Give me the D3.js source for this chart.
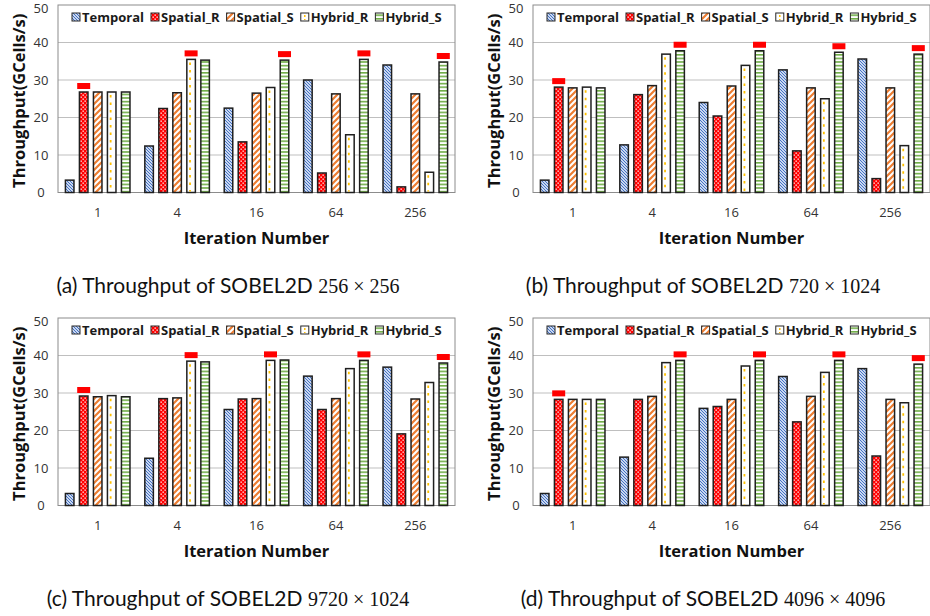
<!DOCTYPE html>
<html>
<head>
<meta charset="utf-8">
<script src="https://cdn.jsdelivr.net/npm/d3@7"></script>
<style>
  body { margin: 0; background: #fff; }
  svg text { font-family: "Open Sans", sans-serif; }
</style>
</head>
<body>
<div id="viz"></div>
<script>
// iteration counts on the x axis
var groups = ["1", "4", "16", "64", "256"];
var series = ["Temporal", "Spatial_R", "Spatial_S", "Hybrid_R", "Hybrid_S"];
var yTicks = [0, 10, 20, 30, 40, 50];

// throughput per series (rows follow `series`), one table per panel
var sobel256 = [
  [3.3, 12.4, 22.5, 30.0, 34.0],
  [26.8, 22.4, 13.5, 5.2, 1.5],
  [26.8, 26.6, 26.5, 26.3, 26.3],
  [26.8, 35.5, 28.0, 15.4, 5.4],
  [26.8, 35.3, 35.3, 35.5, 34.8]
];
var sobel720 = [
  [3.3, 12.7, 24.0, 32.7, 35.6],
  [28.1, 26.1, 20.4, 11.1, 3.7],
  [27.9, 28.5, 28.4, 27.9, 27.9],
  [28.1, 36.9, 33.9, 25.0, 12.5],
  [27.9, 37.8, 37.8, 37.4, 36.9]
];
var sobel9720 = [
  [3.2, 12.6, 25.6, 34.5, 36.9],
  [29.2, 28.5, 28.4, 25.6, 19.1],
  [29.0, 28.7, 28.5, 28.5, 28.4],
  [29.3, 38.5, 38.7, 36.5, 32.8],
  [29.0, 38.3, 38.8, 38.7, 38.0]
];
var sobel4096 = [
  [3.2, 12.9, 25.9, 34.4, 36.5],
  [28.3, 28.3, 26.4, 22.3, 13.2],
  [28.3, 29.1, 28.3, 29.1, 28.3],
  [28.3, 38.1, 37.2, 35.5, 27.4],
  [28.3, 38.7, 38.7, 38.7, 37.7]
];
// which series gets the red "best" marker in each group
var best256 = [1, 3, 4, 4, 4];
var best720 = [1, 4, 4, 4, 4];
var best9720 = [1, 3, 3, 4, 4];
var best4096 = [1, 4, 4, 4, 4];

var captions = [
  ["(a) Throughput of SOBEL2D ", "256 \u00d7 256"],
  ["(b) Throughput of SOBEL2D ", "720 \u00d7 1024"],
  ["(c) Throughput of SOBEL2D ", "9720 \u00d7 1024"],
  ["(d) Throughput of SOBEL2D ", "4096 \u00d7 4096"]
];

var panels = [
  {data: sobel256, best: best256, cap: captions[0], ox: 0, oy: 0},
  {data: sobel720, best: best720, cap: captions[1], ox: 475, oy: 0},
  {data: sobel9720, best: best9720, cap: captions[2], ox: 0, oy: 313},
  {data: sobel4096, best: best4096, cap: captions[3], ox: 475, oy: 313}
];

var svg = d3.select("#viz").append("svg")
  .attr("width", 930)
  .attr("height", 616);

// fill patterns
var defs = svg.append("defs");

var pT = defs.append("pattern").attr("id", "p0").attr("patternUnits", "userSpaceOnUse")
  .attr("width", 3).attr("height", 3);
pT.append("rect").attr("width", 3).attr("height", 3).attr("fill", "#c9d7f0");
pT.append("path").attr("d", "M-1,-1 L4,4 M-1,2 L1,4 M2,-1 L4,1")
  .attr("stroke", "#4472c4").attr("stroke-width", 1);

var pSR = defs.append("pattern").attr("id", "p1").attr("patternUnits", "userSpaceOnUse")
  .attr("width", 4).attr("height", 4);
pSR.append("rect").attr("width", 4).attr("height", 4).attr("fill", "#ff0000");
pSR.append("rect").attr("x", 0.5).attr("y", 0.5).attr("width", 1.3).attr("height", 1.3).attr("fill", "#fff");
pSR.append("rect").attr("x", 2.5).attr("y", 2.5).attr("width", 1.3).attr("height", 1.3).attr("fill", "#fff");

var pSS = defs.append("pattern").attr("id", "p2").attr("patternUnits", "userSpaceOnUse")
  .attr("width", 6).attr("height", 6);
pSS.append("rect").attr("width", 6).attr("height", 6).attr("fill", "#fff");
pSS.append("path").attr("d", "M-1,7 L7,-1 M-4,4 L4,-4 M2,10 L10,2")
  .attr("stroke", "#ed7d31").attr("stroke-width", 2.2);

var pHS = defs.append("pattern").attr("id", "p4").attr("patternUnits", "userSpaceOnUse")
  .attr("width", 4).attr("height", 3.6);
pHS.append("rect").attr("width", 4).attr("height", 3.6).attr("fill", "#fff");
pHS.append("rect").attr("y", 0).attr("width", 4).attr("height", 1.6).attr("fill", "#70ad47");

var fills = ["url(#p0)", "url(#p1)", "url(#p2)", "#fff", "url(#p4)"];

function drawPanel(p) {
  var g = svg.append("g").attr("transform", "translate(" + p.ox + "," + p.oy + ")");
  var left = 58, right = 455, top = 5, bottom = 192.5;

  var x0 = d3.scaleBand().domain(groups).range([left, right]);
  var x1 = d3.scaleBand().domain(d3.range(series.length))
    .range([0, x0.bandwidth()]).paddingInner(0.39).paddingOuter(0.53);
  var y = d3.scaleLinear().domain([0, 50]).range([bottom, top]);

  // grid
  g.selectAll(".grid").data(yTicks.slice(1, -1)).enter().append("line")
    .attr("x1", left).attr("x2", right)
    .attr("y1", function(d) { return y(d); }).attr("y2", function(d) { return y(d); })
    .attr("stroke", "#bfbfbf").attr("stroke-width", 1);

  g.append("rect").attr("x", left).attr("y", top)
    .attr("width", right - left).attr("height", bottom - top)
    .attr("fill", "none").attr("stroke", "#8c8c8c").attr("stroke-width", 1);

  // y tick labels (the top one is nudged so it stays on the page)
  g.selectAll(".yt").data(yTicks).enter().append("text")
    .attr("x", left - 17).attr("y", function(d) { return Math.max(y(d), 8.5); })
    .attr("dy", "0.35em").attr("text-anchor", "middle")
    .attr("font-size", 13).attr("fill", "#333")
    .text(function(d) { return d; });

  // x tick labels
  g.selectAll(".xt").data(groups).enter().append("text")
    .attr("x", function(d) { return x0(d) + x0.bandwidth() / 2; })
    .attr("y", 212).attr("dy", "0.35em").attr("text-anchor", "middle")
    .attr("font-size", 13).attr("fill", "#333")
    .text(function(d) { return d; });

  // bars
  var bars = [];
  p.data.forEach(function(vals, s) {
    vals.forEach(function(v, i) {
      bars.push({s: s, g: groups[i], i: i, v: v});
    });
  });

  g.selectAll(".bar").data(bars).enter().append("rect")
    .attr("x", function(d) { return x0(d.g) + x1(d.s); })
    .attr("y", function(d) { return y(d.v); })
    .attr("width", x1.bandwidth())
    .attr("height", function(d) { return bottom - y(d.v); })
    .attr("fill", function(d) { return fills[d.s]; })
    .attr("stroke", "#1f1f1f").attr("stroke-width", 1.5);

  // yellow dashes inside the Hybrid_R bars
  g.selectAll(".dash").data(bars.filter(function(d) { return d.s == 3; })).enter().append("line")
    .attr("x1", function(d) { return x0(d.g) + x1(d.s) + 3.2; })
    .attr("x2", function(d) { return x0(d.g) + x1(d.s) + 3.2; })
    .attr("y1", function(d) { return y(d.v) + 3; })
    .attr("y2", bottom - 1)
    .attr("stroke", "#ffc000").attr("stroke-width", 1.8)
    .attr("stroke-dasharray", "2.5,5");

  // red best markers
  g.selectAll(".mark").data(p.best).enter().append("rect")
    .attr("x", function(b, i) { return x0(groups[i]) + x1(b) + x1.bandwidth() / 2 - 6.5; })
    .attr("y", function(b, i) { return y(p.data[b][i]) - 9; })
    .attr("width", 13).attr("height", 6)
    .attr("fill", "#ff0000");

  // legend
  var lx = left + 14;
  series.forEach(function(name, s) {
    g.append("rect").attr("x", lx).attr("y", 13).attr("width", 8).attr("height", 8)
      .attr("fill", fills[s]).attr("stroke", "#262626").attr("stroke-width", 1);
    if (s == 3) {
      g.append("line").attr("x1", lx + 4).attr("x2", lx + 4).attr("y1", 15).attr("y2", 20)
        .attr("stroke", "#ffc000").attr("stroke-width", 1.5).attr("stroke-dasharray", "2,2");
    }
    var t = g.append("text").attr("x", lx + 10).attr("y", 17).attr("dy", "0.35em")
      .attr("font-size", 13).attr("font-weight", "bold").attr("fill", "#1a1a1a")
      .text(name);
    lx += 10 + t.node().getComputedTextLength() + 7;
  });

  // axis titles
  g.append("text")
    .attr("transform", "translate(19," + ((top + bottom) / 2 + 2) + ") rotate(-90)")
    .attr("dy", "0.35em").attr("text-anchor", "middle")
    .attr("font-size", 16.5).attr("font-weight", "bold").attr("fill", "#111")
    .text("Throughput(GCells/s)");

  g.append("text")
    .attr("x", (left + right) / 2).attr("y", 238).attr("dy", "0.35em")
    .attr("text-anchor", "middle")
    .attr("font-size", 16.5).attr("font-weight", "bold").attr("fill", "#111")
    .text("Iteration Number");

  var cap = g.append("text")
    .attr("x", 228).attr("y", 286).attr("dy", "0.35em")
    .attr("text-anchor", "middle")
    .attr("font-size", 21).attr("fill", "#111")
    .style("font-family", "Lato, sans-serif");
  cap.append("tspan").text(p.cap[0]);
  cap.append("tspan").style("font-family", "'Liberation Serif', serif").attr("font-size", 20).text(p.cap[1]);
}

panels.forEach(drawPanel);
</script>
</body>
</html>
